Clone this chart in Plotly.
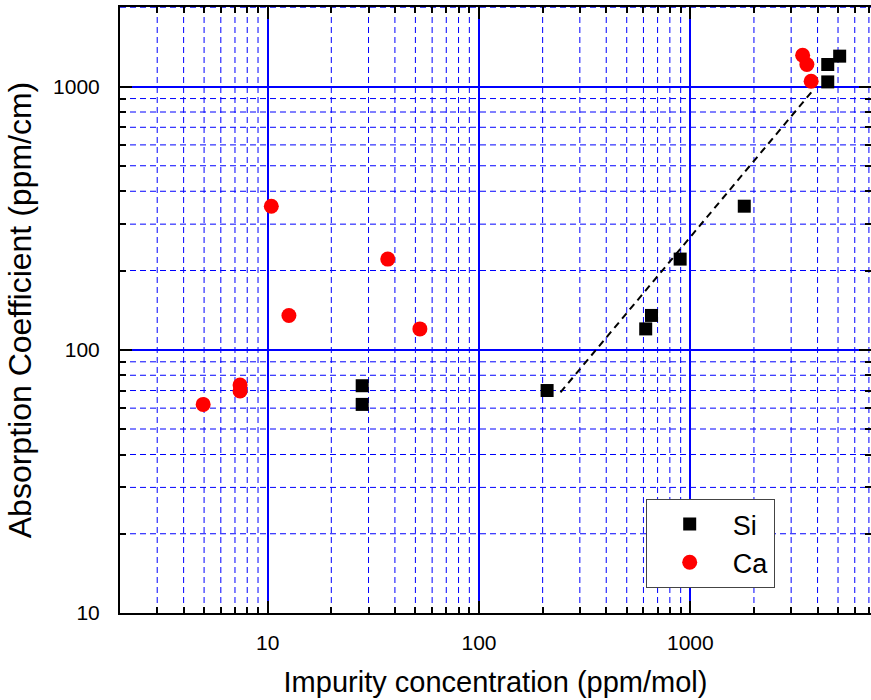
import math
import plotly.graph_objects as go

# ---- data ----
si_x = [28, 28, 210, 615, 655, 895, 1800, 4470, 4470, 5090]
si_y = [73, 62, 70, 120, 135, 221, 351, 1041, 1212, 1304]

ca_x = [4.95, 7.4, 7.4, 10.4, 12.6, 37, 52.5, 3400, 3560, 3730]
ca_y = [62, 73.4, 69.7, 351, 135, 221, 120, 1315, 1212, 1047]

fit_x = [243, 3866]
fit_y = [68.9, 982]

major_ticks = [10, 100, 1000]
major_text = ["10", "100", "1000"]
x_minor = [m * d for d in (1, 10, 100, 1000) for m in range(2, 10)]
y_minor = [m * d for d in (10, 100, 1000) for m in range(2, 10)]

X_RANGE = [math.log10(2), 3.855]
Y_RANGE = [1, 3.302]

FONT = "Liberation Sans, Arial, sans-serif"

fig = go.Figure()
fig.add_trace(go.Scatter(
    x=fit_x, y=fit_y, mode="lines",
    line=dict(color="black", dash="7px,5px", width=2),
    showlegend=False, hoverinfo="skip"))
fig.add_trace(go.Scatter(
    x=si_x, y=si_y, mode="markers", name="Si",
    marker=dict(symbol="square", size=13, color="black",
                line=dict(width=0))))
fig.add_trace(go.Scatter(
    x=ca_x, y=ca_y, mode="markers", name="Ca",
    marker=dict(symbol="circle", size=15, color="red",
                line=dict(width=0))))

# dashed minor grid lines, placed through the axes' own log scales
grid_line = dict(color="blue", width=1, dash="6px,4px")
for v in x_minor:
    lv = math.log10(v)
    if X_RANGE[0] + 1e-6 < lv < X_RANGE[1]:
        fig.add_shape(type="line", xref="x", yref="y domain",
                      x0=v, x1=v, y0=0, y1=1, line=grid_line, layer="below")
for v in y_minor:
    lv = math.log10(v)
    if Y_RANGE[0] + 1e-6 < lv < Y_RANGE[1]:
        fig.add_shape(type="line", xref="x domain", yref="y",
                      x0=0, x1=1, y0=v, y1=v, line=grid_line, layer="below")

axis_common = dict(
    type="log",
    showline=True, linecolor="black", linewidth=2,
    mirror="allticks",
    ticks="inside", ticklen=12, tickwidth=2, tickcolor="black",
    tickvals=major_ticks, ticktext=major_text,
    showgrid=True, gridcolor="blue", gridwidth=2,
    zeroline=False,
    tickfont=dict(family=FONT, size=21, color="black"),
)

fig.update_xaxes(
    **axis_common,
    range=X_RANGE,
    ticklabelstandoff=10,
    minor=dict(tickvals=x_minor, ticks="inside", ticklen=6, tickwidth=2,
               tickcolor="black", showgrid=False),
    title=dict(text="Impurity concentration (ppm/mol)",
               font=dict(family=FONT, size=29, color="black"), standoff=18),
)
fig.update_yaxes(
    **axis_common,
    range=Y_RANGE,
    ticklabelstandoff=14,
    minor=dict(tickvals=y_minor, ticks="inside", ticklen=6, tickwidth=2,
               tickcolor="black", showgrid=False),
    title=dict(text="Absorption Coefficient (ppm/cm)",
               font=dict(family=FONT, size=32, color="black"), standoff=12),
)

fig.update_layout(
    width=871, height=700,
    margin=dict(l=120, r=0, t=7, b=87, autoexpand=False),
    plot_bgcolor="white", paper_bgcolor="white",
    font=dict(family=FONT, color="black"),
    legend=dict(
        x=0.700, y=0.188, xanchor="left", yanchor="top",
        bgcolor="white", bordercolor="#444", borderwidth=1,
        font=dict(family=FONT, size=27, color="black"),
        itemwidth=76, tracegroupgap=0,
    ),
)

fig.write_html("out.html")
